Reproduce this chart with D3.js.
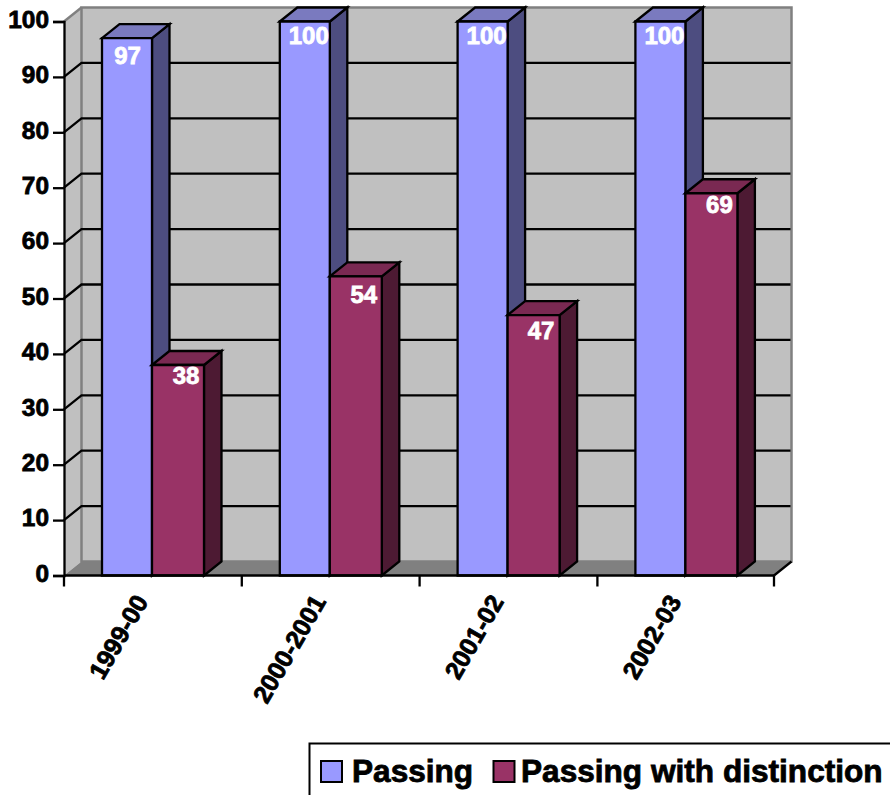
<!DOCTYPE html>
<html>
<head>
<meta charset="utf-8">
<script src="https://cdn.jsdelivr.net/npm/d3@7"></script>
<style>
body { margin: 0; background: #fff; }
svg { display: block; }
text { font-family: "Liberation Sans", Arial, sans-serif; font-weight: bold; stroke-width: 0.8; paint-order: stroke; }
</style>
</head>
<body>
<svg id="base" width="890" height="795"></svg>
<script>
const categories = ["1999-00", "2000-2001", "2001-02", "2002-03"]
const seriesNames = ["Passing", "Passing with distinction"]
const passing = [97, 100, 100, 100]
const distinction = [38, 54, 47, 69]
const yTicks = [0, 10, 20, 30, 40, 50, 60, 70, 80, 90, 100]

const depthX = 17.5, depthY = 14 //3d offset of back wall
const colors = [
    { front: "#9999ff", side: "#4d4d80", top: "#7a7abf" },
    { front: "#993366", side: "#4d1a33", top: "#7a2952" }
]
// label nudges from the bar, the original labels are not placed evenly
const labelDx = [[0.5, 4, 4, 4], [8, 8, 7.5, 8]]
const labelDy = [[26, 22.5, 22.5, 22.5], [19.5, 27, 24, 19.5]]

const x = d3.scaleBand().domain(categories).range([64, 775.2])
const x2 = d3.scaleLinear().domain([0, 1, 2]).range([38, 88, 140]) //first bar is a bit narrower
const y = d3.scaleLinear().domain([0, 100]).range([575.5, 21.5])

const base = d3.select("#base")

function poly(g, pts, fill, stroke, sw) {
    return g.append("polygon")
        .attr("points", pts.map(p => p.join(",")).join(" "))
        .attr("fill", fill)
        .attr("stroke", stroke || "none")
        .attr("stroke-width", sw || 0)
        .attr("stroke-linejoin", "miter")
}

// walls and floor
let x0 = 64, x1 = 774
let yb = y(0), yt = y(100)
poly(base, [[x0, yb], [x0 + depthX, yb - depthY], [x0 + depthX, yt - depthY], [x0, yt]], "#c0c0c0")
poly(base, [[x0 + depthX, yb - depthY], [x1 + depthX, yb - depthY], [x1 + depthX, yt - depthY], [x0 + depthX, yt - depthY]], "#c0c0c0", "#808080", 2.5)
base.append("line").attr("x1", x0).attr("y1", yt).attr("x2", x0 + depthX).attr("y2", yt - depthY)
    .attr("stroke", "#808080").attr("stroke-width", 2.5)

// gridlines, back wall + left wall
yTicks.filter(t => t > 0 && t < 100).forEach(t => {
    base.append("polyline")
        .attr("points", [[x0, y(t)], [x0 + depthX, y(t) - depthY], [x1 + depthX - 1, y(t) - depthY]].map(p => p.join(",")).join(" "))
        .attr("fill", "none").attr("stroke", "#000").attr("stroke-width", 2.3)
})

poly(base, [[x0, yb], [x0 + depthX, yb - depthY], [x1 + depthX, yb - depthY], [x1, yb]], "#808080")
base.append("line").attr("x1", x1).attr("y1", yb).attr("x2", x1 + depthX).attr("y2", yb - depthY)
    .attr("stroke", "#000").attr("stroke-width", 2.3)

// bars
const bars = [passing, distinction]
categories.forEach((c, i) => {
    bars.forEach((vals, s) => {
        let g = base.append("g")
        let l = x(c) + x2(s), r = x(c) + x2(s + 1)
        let t = y(vals[i]), b = yb
        poly(g, [[r, b], [r + depthX, b - depthY], [r + depthX, t - depthY], [r, t]], colors[s].side, "#000", 2.3)
        poly(g, [[l, t], [l + depthX, t - depthY], [r + depthX, t - depthY], [r, t]], colors[s].top, "#000", 2.3)
        poly(g, [[l, b], [l, t], [r, t], [r, b]], colors[s].front, "#000", 2.3)
    })
})

// data labels on top of every bar
categories.forEach((c, i) => {
    bars.forEach((vals, s) => {
        base.append("text")
            .attr("x", x(c) + (x2(s) + x2(s + 1)) / 2 + labelDx[s][i])
            .attr("y", y(vals[i]) + labelDy[s][i])
            .attr("text-anchor", "middle")
            .attr("font-size", 24)
            .attr("fill", "#fff")
            .attr("stroke", "#fff")
            .text(vals[i])
    })
})

// y axis
let yAxis = d3.axisLeft(y).tickValues(yTicks).tickSize(11).tickPadding(4)
let yg = base.append("g").attr("transform", "translate(" + x0 + ",0)").call(yAxis)
yg.selectAll("path").attr("stroke", "#000").attr("stroke-width", 2.3)
yg.selectAll("line").attr("stroke", "#000").attr("stroke-width", 2.3)
yg.selectAll("text").attr("font-size", 24.4).attr("fill", "#000").attr("stroke", "#000")
    .attr("y", -2)
    .attr("font-family", "Liberation Sans").attr("font-weight", "bold")

// x axis, ticks sit between the groups
base.append("line").attr("x1", x0).attr("y1", yb).attr("x2", x1).attr("y2", yb)
    .attr("stroke", "#000").attr("stroke-width", 2.3)
categories.concat([null]).forEach(c => {
    let tx = c === null ? x1 : x(c)
    base.append("line").attr("x1", tx).attr("y1", yb).attr("x2", tx).attr("y2", yb + 11)
        .attr("stroke", "#000").attr("stroke-width", 2.3)
})
categories.forEach(c => {
    base.append("text")
        .attr("transform", "translate(" + (x(c) + x.bandwidth() / 2 - 4) + "," + (yb + 26) + ") rotate(-60)")
        .attr("text-anchor", "end")
        .attr("font-size", 25)
        .attr("fill", "#000")
        .attr("stroke", "#000")
        .text(c)
})

// legend, runs off the page on purpose like the original
let legend = base.append("g")
legend.append("rect").attr("x", 309.5).attr("y", 743.5).attr("width", 600).attr("height", 80)
    .attr("fill", "#fff").attr("stroke", "#000").attr("stroke-width", 2)
let legendX = [321, 493.5]
let legendTextX = [352, 521]
seriesNames.forEach((n, s) => {
    legend.append("rect").attr("x", legendX[s]).attr("y", 761).attr("width", 21).attr("height", 21)
        .attr("fill", colors[s].front).attr("stroke", "#000").attr("stroke-width", 2)
    legend.append("text").attr("x", legendTextX[s]).attr("y", 782)
        .attr("font-size", 31.6).attr("fill", "#000").attr("stroke", "#000").text(n)
})
</script>
</body>
</html>
